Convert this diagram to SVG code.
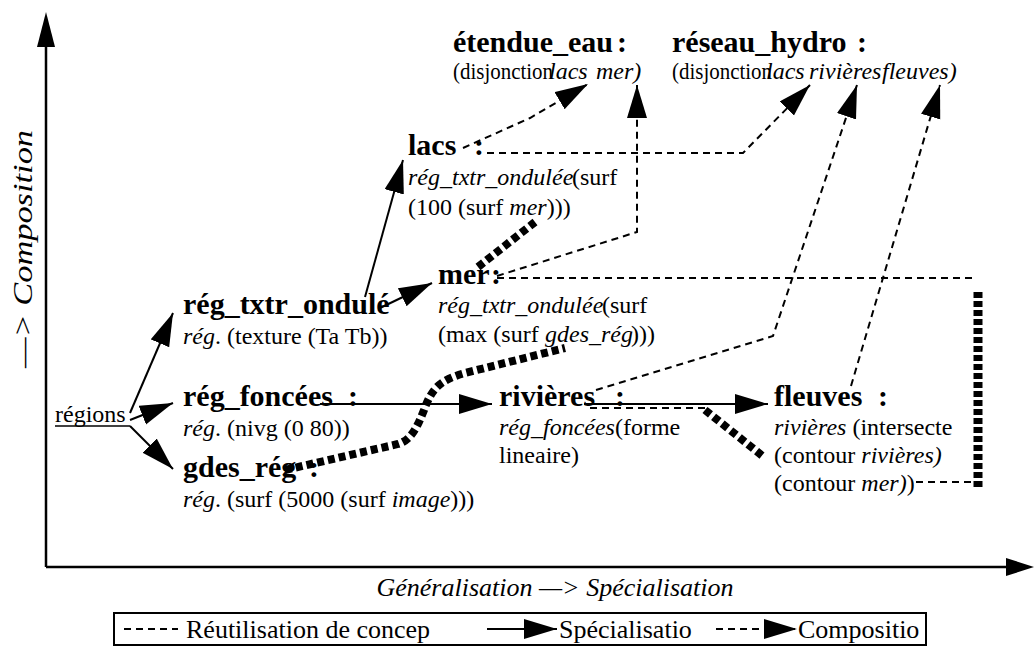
<svg xmlns="http://www.w3.org/2000/svg" width="1034" height="646" viewBox="0 0 1034 646">
<defs>
<marker id="ah" markerUnits="userSpaceOnUse" markerWidth="36" markerHeight="22" refX="33" refY="10" orient="auto"><path d="M0,0 L33,10 L0,20 z" fill="#000"/></marker>
<style>
text{font-family:"Liberation Serif","Times New Roman",serif;font-size:24px;fill:#000}
.b{font-weight:bold;font-size:30px}
.i{font-style:italic}
.lg{font-size:26px}
.ax{stroke:#000;stroke-width:2.5;fill:none}
.spec{stroke:#000;stroke-width:2;fill:none;marker-end:url(#ah)}
.comp{stroke:#000;stroke-width:2;fill:none;stroke-dasharray:7 5;marker-end:url(#ah)}
.reuse{stroke:#000;stroke-width:2;fill:none;stroke-dasharray:7 5}
.thick{stroke:#000;stroke-width:8;fill:none;stroke-dasharray:7 4}
</style>
</defs>
<rect x="0" y="0" width="1034" height="646" fill="#fff"/>

<g id="axes">
<line class="ax" x1="46" y1="567" x2="46" y2="40"/>
<polygon points="46,12 37,47 55,47" fill="#000"/>
<line class="ax" x1="46" y1="567" x2="1010" y2="567"/>
<polygon points="1034,567 1006,558 1006,576" fill="#000"/>
<text class="i" transform="translate(32,249) rotate(-90)" text-anchor="middle" style="font-size:27px" textLength="238" lengthAdjust="spacingAndGlyphs">—&gt; Composition</text>
<text class="i" x="555" y="596" text-anchor="middle" style="font-size:26px">Généralisation —&gt; Spécialisation</text>
</g>

<g id="connectors">
<path class="spec" d="M130,413 L173,313"/>
<path class="spec" d="M130,420 L173,403"/>
<path class="spec" d="M130,426 L173,469"/>
<path class="spec" d="M365,297 L403,160"/>
<path class="spec" d="M380,308 L432,283"/>
<path class="spec" d="M320,404 L492,404"/>
<path class="spec" d="M584,404 L768,404"/>
<path class="comp" d="M463,148 L530,118 L588,84"/>
<path class="comp" d="M497,276 L637,232 L637,85"/>
<path class="comp" d="M487,153 L743,153 L810,85"/>
<path class="comp" d="M596,390 L773,336 L857,85"/>
<path class="comp" d="M851,386 L940,85"/>
<path class="reuse" d="M497,278 L977,278"/>
<path class="reuse" d="M916,482 L978,482"/>
<path class="reuse" d="M590,408 L705,408"/>
<path class="thick" d="M978,292 L978,487" style="stroke-width:9;stroke-dasharray:6 3"/>
<path class="thick" d="M285,470 L398,444 C412,440 418,425 424,410 C432,388 440,380 465,373 L565,348"/>
<path class="thick" d="M478,267 L535,222"/>
<path class="thick" d="M705,410 L765,458"/>
</g>

<g id="etendue_eau">
<text class="b" x="453" y="52">étendue_eau<tspan x="617">:</tspan></text>
<text x="453" y="79" textLength="100" lengthAdjust="spacingAndGlyphs">(disjonction</text>
<text class="i" x="549" y="79">lacs</text>
<text class="i" x="596" y="79">mer)</text>
</g>
<g id="reseau_hydro">
<text class="b" x="672" y="52">réseau_hydro<tspan x="857">:</tspan></text>
<text x="672" y="79" textLength="100" lengthAdjust="spacingAndGlyphs">(disjonction</text>
<text class="i" x="766" y="79">lacs</text>
<text class="i" x="809" y="79">rivières</text>
<text class="i" x="882" y="79">fleuves)</text>
</g>
<g id="lacs">
<text class="b" x="408" y="155">lacs<tspan x="474">:</tspan></text>
<text class="i" x="408" y="185">rég_txtr_ondulée</text>
<text x="572" y="185">(surf</text>
<text x="408" y="215">(100 (surf <tspan class="i">mer</tspan>)))</text>
</g>
<g id="mer">
<text class="b" x="438" y="284">mer<tspan x="491">:</tspan></text>
<text class="i" x="438" y="313">rég_txtr_ondulée</text>
<text x="602" y="313">(surf</text>
<text x="438" y="342">(max (surf</text>
<text class="i" x="545" y="342">gdes_rég</text>
<text x="631" y="342">)))</text>
</g>
<g id="reg_txtr_ondule">
<text class="b" x="183" y="314">rég_txtr_ondulé</text>
<text x="183" y="344"><tspan class="i">rég</tspan>. (texture (Ta Tb))</text>
</g>
<g id="regions">
<text x="55" y="422">régions</text>
<line x1="55" y1="426" x2="130" y2="426" stroke="#000" stroke-width="1.5"/>
</g>
<g id="reg_foncees">
<text class="b" x="183" y="406">rég_foncées<tspan x="348">:</tspan></text>
<text x="183" y="436"><tspan class="i">rég</tspan>. (nivg (0 80))</text>
</g>
<g id="gdes_reg">
<text class="b" x="183" y="477">gdes_rég<tspan x="309">:</tspan></text>
<text x="183" y="507"><tspan class="i">rég</tspan>. (surf (5000 (surf <tspan class="i">image</tspan>)))</text>
</g>
<g id="rivieres">
<text class="b" x="499" y="406">rivières<tspan x="615">:</tspan></text>
<text x="499" y="435"><tspan class="i">rég_foncées</tspan>(forme</text>
<text x="499" y="463">lineaire)</text>
</g>
<g id="fleuves">
<text class="b" x="774" y="406">fleuves<tspan x="878">:</tspan></text>
<text x="774" y="435"><tspan class="i">rivières</tspan> (intersecte</text>
<text x="774" y="463">(contour <tspan class="i">rivières)</tspan></text>
<text x="774" y="491">(contour <tspan class="i">mer)</tspan>)</text>
</g>

<g id="legend">
<rect x="114" y="613" width="812" height="32" fill="none" stroke="#000" stroke-width="2"/>
<line class="reuse" x1="124" y1="629" x2="178" y2="629"/>
<text class="lg" x="186" y="638">Réutilisation de concep</text>
<path class="spec" d="M487,629 L557,629"/>
<text class="lg" x="559" y="638">Spécialisatio</text>
<path class="comp" d="M716,629 L797,629"/>
<text class="lg" x="798" y="638">Compositio</text>
</g>
</svg>
